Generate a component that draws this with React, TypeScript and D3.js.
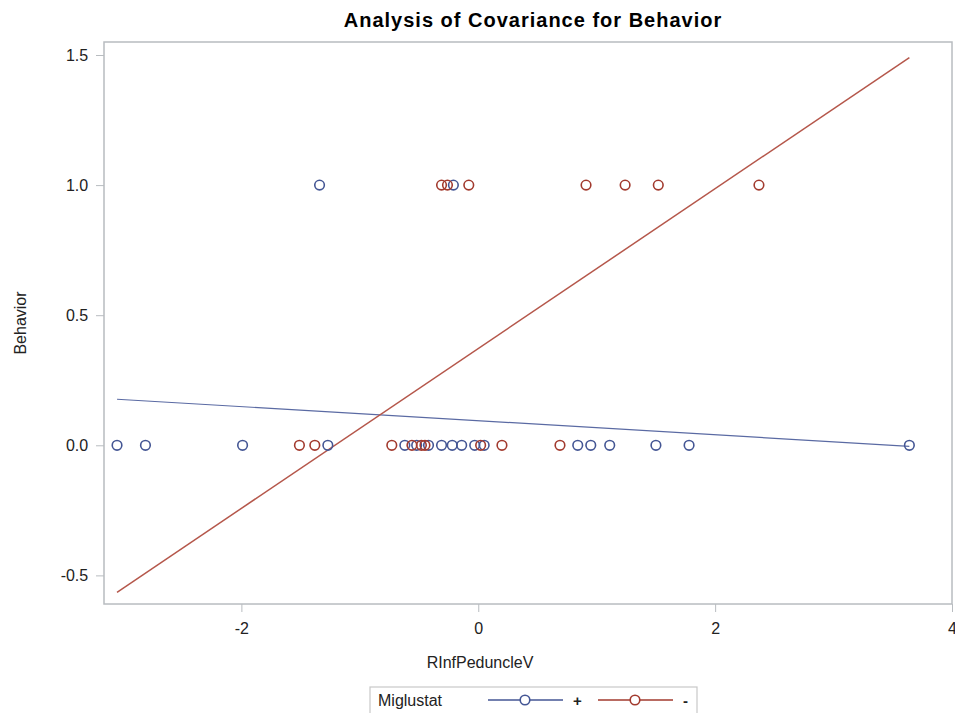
import React, { useEffect, useRef } from "react";
import * as d3 from "d3";

// Behavior vs RInfPeduncleV, grouped by Miglustat
const plusZeroX = [-3.05, -2.81, -1.99, -1.27, -0.62, -0.52, -0.42, -0.31, -0.22, -0.14, -0.03, 0.05, 0.84, 0.95, 1.11, 1.5, 1.78, 3.64];
const plusOneX = [-1.34, -0.21];
const minusZeroX = [-1.51, -1.38, -0.73, -0.56, -0.48, -0.45, 0.02, 0.2, 0.69];
const minusOneX = [-0.31, -0.26, -0.08, 0.91, 1.24, 1.52, 2.37];

// fitted lines (endpoints over the observed x range)
const fitX = [-3.05, 3.64];
const plusFit = [0.177, -0.004];
const minusFit = [-0.565, 1.49];

const xTicks = [-2, 0, 2, 4];
const yTicks = [-0.5, 0.0, 0.5, 1.0, 1.5];

const BLUE = "#445694";
const RED = "#a23a2e";
const FONT = "'Liberation Sans', Arial, sans-serif";

export default function App() {
  const ref = useRef<SVGSVGElement>(null);

  useEffect(() => {
    const svg = d3.select(ref.current);
    svg.selectAll("*").remove();

    const width = 955;
    const height = 713;
    const margin = { top: 42, right: 3, bottom: 109, left: 104 };
    const x = d3.scaleLinear().domain([-3.16, 4.0]).range([margin.left, width - margin.right]);
    const y = d3.scaleLinear().domain([-0.61, 1.55]).range([height - margin.bottom, margin.top]);

    svg.append("rect").attr("width", width).attr("height", height).attr("fill", "#fff");

    // title
    svg.append("text")
      .attr("x", 533).attr("y", 27)
      .attr("text-anchor", "middle")
      .style("font", `bold 20px ${FONT}`)
      .style("letter-spacing", "1px")
      .attr("fill", "#000")
      .text("Analysis of Covariance for Behavior");

    // frame
    svg.append("rect")
      .attr("x", margin.left).attr("y", margin.top)
      .attr("width", width - margin.left - margin.right)
      .attr("height", height - margin.top - margin.bottom)
      .attr("fill", "none").attr("stroke", "#b8bcc0").attr("stroke-width", 1.5);

    // axes
    const xAxis = svg.append("g")
      .attr("transform", `translate(0, ${height - margin.bottom})`)
      .call(d3.axisBottom(x).tickValues(xTicks).tickSize(8).tickSizeOuter(0)
        .tickFormat((d) => String(d)));
    xAxis.select(".domain").remove();
    xAxis.selectAll("line").attr("stroke", "#b8bcc0");
    xAxis.selectAll("text").attr("dy", "1.2em").style("font", `16px ${FONT}`).attr("fill", "#222");

    const yAxis = svg.append("g")
      .attr("transform", `translate(${margin.left}, 0)`)
      .call(d3.axisLeft(y).tickValues(yTicks).tickSize(8).tickSizeOuter(0)
        .tickFormat((d) => (+d).toFixed(1)));
    yAxis.select(".domain").remove();
    yAxis.selectAll("line").attr("stroke", "#b8bcc0");
    yAxis.selectAll("text").attr("dx", "-0.3em").style("font", `16px ${FONT}`).attr("fill", "#222");

    // axis labels
    svg.append("text")
      .attr("x", 480).attr("y", 668)
      .attr("text-anchor", "middle")
      .style("font", `16px ${FONT}`).attr("fill", "#222")
      .text("RInfPeduncleV");
    svg.append("text")
      .attr("transform", `translate(26, ${(margin.top + height - margin.bottom) / 2}) rotate(-90)`)
      .attr("text-anchor", "middle")
      .style("font", `16px ${FONT}`).attr("fill", "#222")
      .text("Behavior");

    const line = d3.line<[number, number]>().x((d) => x(d[0])).y((d) => y(d[1]));
    const plot = svg.append("g");

    plot.append("path")
      .datum(fitX.map((v, i) => [v, plusFit[i]] as [number, number]))
      .attr("d", line).attr("fill", "none").attr("stroke", "#5a6aa3").attr("stroke-width", 1.2);
    plot.append("path")
      .datum(fitX.map((v, i) => [v, minusFit[i]] as [number, number]))
      .attr("d", line).attr("fill", "none").attr("stroke", "#b5574b").attr("stroke-width", 1.5);

    const groups = [
      { xs: plusZeroX, yv: 0, color: BLUE },
      { xs: plusOneX, yv: 1, color: BLUE },
      { xs: minusZeroX, yv: 0, color: RED },
      { xs: minusOneX, yv: 1, color: RED },
    ];
    groups.forEach((g) => {
      plot.append("g").selectAll("circle")
        .data(g.xs)
        .enter()
        .append("circle")
        .attr("cx", (d) => x(d))
        .attr("cy", y(g.yv))
        .attr("r", 4.8)
        .attr("fill", "none")
        .attr("stroke", g.color)
        .attr("stroke-width", 1.6);
    });

    // legend
    const lg = svg.append("g");
    lg.append("rect")
      .attr("x", 370).attr("y", 687).attr("width", 327).attr("height", 40)
      .attr("fill", "#fff").attr("stroke", "#c8c8c8").attr("stroke-width", 1.2);
    lg.append("text")
      .attr("x", 378).attr("y", 706)
      .style("font", `16px ${FONT}`).attr("fill", "#222")
      .text("Miglustat");
    const items = [
      { label: "+", color: BLUE, x0: 488 },
      { label: "-", color: RED, x0: 598 },
    ];
    items.forEach((it) => {
      lg.append("line")
        .attr("x1", it.x0).attr("x2", it.x0 + 75).attr("y1", 700).attr("y2", 700)
        .attr("stroke", it.color).attr("stroke-width", 1.4);
      lg.append("circle")
        .attr("cx", it.x0 + 37).attr("cy", 700).attr("r", 4.8)
        .attr("fill", "#fff").attr("stroke", it.color).attr("stroke-width", 1.6);
      lg.append("text")
        .attr("x", it.x0 + 85).attr("y", 706)
        .style("font", `bold 15px ${FONT}`).attr("fill", "#222")
        .text(it.label);
    });
  }, []);

  return (
    <svg
      ref={ref}
      width={955}
      height={713}
      style={{ position: "absolute", left: 0, top: 0, display: "block" }}
    />
  );
}
